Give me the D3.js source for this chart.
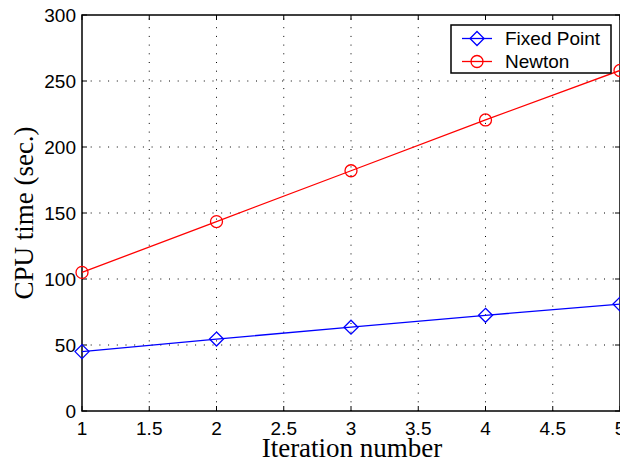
<!DOCTYPE html>
<html>
<head>
<meta charset="utf-8">
<script src="https://cdn.jsdelivr.net/npm/d3@7"></script>
<style>
  body { margin: 0; background: #fff; }
  svg { display: block; }
</style>
</head>
<body>
<svg id="chart"></svg>
<script>
// data
const iterations = [1, 2, 3, 4, 5];
const fixedPoint = [45, 54.5, 63.5, 72.5, 81];
const newton = [105, 143.5, 182, 220.5, 258];
const xTicks = [1, 1.5, 2, 2.5, 3, 3.5, 4, 4.5, 5];
const yTicks = [0, 50, 100, 150, 200, 250, 300];

const W = 620, H = 462;
const box = { left: 82, top: 15, right: 620, bottom: 411 };

const svg = d3.select("#chart").attr("width", W).attr("height", H);

const x = d3.scaleLinear().domain([1, 5]).range([box.left, box.right]);
const y = d3.scaleLinear().domain([0, 300]).range([box.bottom, box.top]);

// dotted grid
const grid = svg.append("g").attr("stroke", "#000").attr("stroke-width", 1)
  .attr("stroke-dasharray", "1,7.7");
xTicks.slice(1, -1).forEach(t => {
  grid.append("line").attr("x1", x(t)).attr("x2", x(t))
    .attr("y1", box.bottom).attr("y2", box.top);
});
yTicks.slice(1, -1).forEach(t => {
  grid.append("line").attr("x1", box.left).attr("x2", box.right)
    .attr("y1", y(t)).attr("y2", y(t));
});

// inward ticks on all sides
const tl = 5;
const tk = svg.append("g").attr("stroke", "#000").attr("stroke-width", 1);
xTicks.forEach(t => {
  tk.append("line").attr("x1", x(t)).attr("x2", x(t)).attr("y1", box.bottom).attr("y2", box.bottom - tl);
  tk.append("line").attr("x1", x(t)).attr("x2", x(t)).attr("y1", box.top).attr("y2", box.top + tl);
});
yTicks.forEach(t => {
  tk.append("line").attr("x1", box.left).attr("x2", box.left + tl).attr("y1", y(t)).attr("y2", y(t));
  tk.append("line").attr("x1", box.right).attr("x2", box.right - tl).attr("y1", y(t)).attr("y2", y(t));
});

// frame
svg.append("rect")
  .attr("x", box.left).attr("y", box.top)
  .attr("width", box.right - box.left).attr("height", box.bottom - box.top)
  .attr("fill", "none").attr("stroke", "#000").attr("stroke-width", 1.5);

// tick labels
const lab = svg.append("g").attr("font-family", "Liberation Sans, Arial, sans-serif")
  .attr("font-size", 19).attr("fill", "#000");
xTicks.forEach(t => {
  lab.append("text").attr("x", x(t)).attr("y", 435)
    .attr("text-anchor", "middle").text(t);
});
yTicks.forEach(t => {
  lab.append("text").attr("x", 76).attr("y", y(t)).attr("dy", "0.35em")
    .attr("text-anchor", "end").text(t);
});

// axis titles
svg.append("text").attr("x", 352).attr("y", 457)
  .attr("text-anchor", "middle").attr("font-family", "Liberation Serif, Times New Roman, serif")
  .attr("font-size", 27).text("Iteration number");
svg.append("text")
  .attr("transform", `translate(33,${(box.top + box.bottom) / 2}) rotate(-90)`)
  .attr("text-anchor", "middle").attr("font-family", "Liberation Serif, Times New Roman, serif")
  .attr("font-size", 27).text("CPU time (sec.)");

// series
const line = d3.line().x((d, i) => x(iterations[i])).y(d => y(d));
const diamond = (cx, cy, r) => `M${cx},${cy - r}L${cx + r},${cy}L${cx},${cy + r}L${cx - r},${cy}Z`;

svg.append("path").datum(fixedPoint).attr("d", line)
  .attr("fill", "none").attr("stroke", "#0000ff").attr("stroke-width", 1.3);
svg.selectAll(".fp").data(fixedPoint).join("path").attr("class", "fp")
  .attr("d", (d, i) => diamond(x(iterations[i]), y(d), 7))
  .attr("fill", "none").attr("stroke", "#0000ff").attr("stroke-width", 1.3);

svg.append("path").datum(newton).attr("d", line)
  .attr("fill", "none").attr("stroke", "#ff0000").attr("stroke-width", 1.3);
svg.selectAll(".nt").data(newton).join("circle").attr("class", "nt")
  .attr("cx", (d, i) => x(iterations[i])).attr("cy", d => y(d)).attr("r", 6)
  .attr("fill", "none").attr("stroke", "#ff0000").attr("stroke-width", 1.3);

// legend
const leg = svg.append("g");
leg.append("rect").attr("x", 451).attr("y", 25).attr("width", 160).attr("height", 48)
  .attr("fill", "#fff").attr("stroke", "#000").attr("stroke-width", 1.5);
const items = [
  { name: "Fixed Point", color: "#0000ff", shape: "diamond", cy: 38.5 },
  { name: "Newton", color: "#ff0000", shape: "circle", cy: 61.5 }
];
items.forEach(it => {
  leg.append("line").attr("x1", 462).attr("x2", 492).attr("y1", it.cy).attr("y2", it.cy)
    .attr("stroke", it.color).attr("stroke-width", 1.3);
  if (it.shape === "diamond") {
    leg.append("path").attr("d", diamond(477, it.cy, 7))
      .attr("fill", "none").attr("stroke", it.color).attr("stroke-width", 1.3);
  } else {
    leg.append("circle").attr("cx", 477).attr("cy", it.cy).attr("r", 6)
      .attr("fill", "none").attr("stroke", it.color).attr("stroke-width", 1.3);
  }
  leg.append("text").attr("x", 505).attr("y", it.cy).attr("dy", "0.35em")
    .attr("font-family", "Liberation Sans, Arial, sans-serif").attr("font-size", 19)
    .text(it.name);
});
</script>
</body>
</html>
